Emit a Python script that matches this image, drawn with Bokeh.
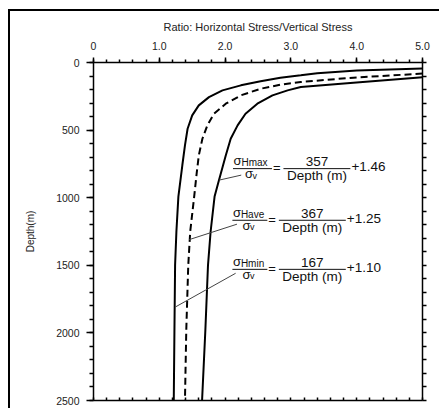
from bokeh.plotting import figure
from bokeh.models import Range1d, LinearAxis, FixedTicker, InlineStyleSheet
from bokeh.core.properties import value
from bokeh.embed import file_html
from bokeh.resources import INLINE

# ---- data ----
hmin_ratio = [5.0, 4.0, 3.4, 3.15, 2.84, 2.54, 2.24, 1.96, 1.755, 1.60, 1.50, 1.43, 1.39, 1.35, 1.29, 1.26, 1.24, 1.23, 1.22]
hmin_depth = [45, 60, 80, 95, 113, 139, 169, 206, 256, 317, 391, 490, 613, 760, 992, 1250, 1500, 1980, 2500]

have_ratio = [5.0, 3.95, 3.15, 2.84, 2.54, 2.24, 2.01, 1.83, 1.73, 1.655, 1.60, 1.57, 1.53, 1.47, 1.44, 1.41, 1.39]
have_depth = [82, 112, 144, 164, 194, 243, 305, 379, 465, 564, 688, 811, 992, 1250, 1500, 1980, 2500]

hmax_ratio = [5.0, 3.95, 3.15, 2.95, 2.72, 2.49, 2.31, 2.19, 2.085, 2.01, 1.94, 1.89, 1.84, 1.78, 1.74, 1.70, 1.65]
hmax_depth = [109, 150, 181, 206, 243, 305, 379, 465, 564, 688, 811, 900, 992, 1250, 1500, 1980, 2500]

x_ticks = [0, 1, 2, 3, 4, 5]
x_tick_labels = ["0", "1.0", "2.0", "3.0", "4.0", "5.0"]
x_minor = [0, 0.2, 0.4, 0.6, 0.8, 1, 1.2, 1.4, 1.6, 1.8, 2, 2.2, 2.4, 2.6, 2.8, 3,
           3.2, 3.4, 3.6, 3.8, 4, 4.2, 4.4, 4.6, 4.8, 5]
y_ticks = [0, 500, 1000, 1500, 2000, 2500]
y_minor = [0, 100, 200, 300, 400, 500, 600, 700, 800, 900, 1000, 1100, 1200, 1300, 1400,
           1500, 1600, 1700, 1800, 1900, 2000, 2100, 2200, 2300, 2400, 2500]

eq_names = ["Hmax", "Have", "Hmin"]
eq_coef = ["357", "367", "167"]
eq_const = ["+1.46", "+1.25", "+1.10"]
# leader lines (curve point -> equation)
leader_x0 = [1.91, 1.455, 1.242]
leader_d0 = [870, 1310, 1809]
leader_x1 = [2.245, 2.18, 2.16]
leader_d1 = [833, 1196, 1559]
# equation anchors (left end of the small fraction bar)
eq_anchor_x = [2.12, 2.111, 2.111]
eq_anchor_d = [785, 1167, 1530]
eq_shift = [4, 0, 0]   # px extra room after the wider "Hmax" subscript

FONT = "Liberation Sans"

p = figure(width=439, height=408, output_backend="svg", toolbar_location=None,
           x_range=Range1d(0, 5), y_range=Range1d(2500, 0),
           x_axis_location="above", y_axis_location="left",
           min_border_left=93, min_border_right=17, min_border_top=62, min_border_bottom=8)
p.grid.visible = False
p.outline_line_color = None
p.background_fill_color = "white"
p.border_fill_color = "white"
p.stylesheets = [InlineStyleSheet(css=(
    ":host{position:relative;}"
    ":host::after{content:'';position:absolute;left:8px;top:9px;right:0;bottom:0;"
    "border-left:2px solid #000;border-top:2px solid #000;pointer-events:none;}"))]

# top axis
ax = p.xaxis[0]
ax.ticker = FixedTicker(ticks=x_ticks, minor_ticks=x_minor)
ax.major_label_overrides = {t: l for t, l in zip(x_ticks, x_tick_labels)}
ax.axis_label = "Ratio: Horizontal Stress/Vertical Stress"
ax.axis_label_text_font = FONT
ax.axis_label_text_font_style = "normal"
ax.axis_label_text_font_size = "11px"
ax.axis_label_text_color = "#222"
ax.axis_label_standoff = 6
ax.major_label_text_font = FONT
ax.major_label_text_font_size = "10.5px"
ax.major_label_text_color = "#222"
ax.major_label_standoff = 8
ax.major_tick_out = 5
ax.major_tick_in = 0
ax.minor_tick_out = 3
ax.minor_tick_in = 0
ax.axis_line_width = 1.5
ax.major_tick_line_width = 1.5
ax.minor_tick_line_width = 1.5

# left axis
ay = p.yaxis[0]
ay.ticker = FixedTicker(ticks=y_ticks, minor_ticks=y_minor)
ay.axis_label = "Depth(m)"
ay.axis_label_text_font = FONT
ay.axis_label_text_font_style = "normal"
ay.axis_label_text_font_size = "10px"
ay.axis_label_text_color = "#222"
ay.axis_label_standoff = 17
ay.major_label_text_font = FONT
ay.major_label_text_font_size = "10.5px"
ay.major_label_text_color = "#222"
ay.major_label_standoff = 7
ay.major_tick_out = 7
ay.major_tick_in = 0
ay.minor_tick_out = 4
ay.minor_tick_in = 0
ay.axis_line_width = 1.5
ay.major_tick_line_width = 1.5
ay.minor_tick_line_width = 1.5

# right axis (ticks only)
ar = LinearAxis(ticker=FixedTicker(ticks=[], minor_ticks=y_minor),
                major_label_standoff=0,
                major_tick_out=0, major_tick_in=0, minor_tick_out=4, minor_tick_in=0,
                axis_line_width=1.5, minor_tick_line_width=1.5)
p.add_layout(ar, "right")

# bottom axis (ticks only, pointing inward)
ab = LinearAxis(ticker=FixedTicker(ticks=[], minor_ticks=x_minor),
                major_label_standoff=0,
                major_tick_out=0, major_tick_in=0, minor_tick_out=0, minor_tick_in=3,
                axis_line_width=1.5, minor_tick_line_width=1.5)
p.add_layout(ab, "below")

# curves
p.line(hmin_ratio, hmin_depth, line_color="black", line_width=2)
p.line(have_ratio, have_depth, line_color="black", line_width=2, line_dash="7 4")
p.line(hmax_ratio, hmax_depth, line_color="black", line_width=2)

# leaders
p.segment(x0=leader_x0, y0=leader_d0, x1=leader_x1, y1=leader_d1,
          line_color="#444", line_width=1)

SX = 329.3 / 5.0
SY = 337.5 / 2500.0

groups = {}


def put(key, x0, d0, dx, dy, text):
    g = groups.setdefault(key, ([], [], []))
    g[0].append(x0 + dx / SX)
    g[1].append(d0 + dy / SY)
    g[2].append(text)


bx0, bx1, bd = [], [], []
for name, coef, const, axx, add, sh in zip(eq_names, eq_coef, eq_const,
                                           eq_anchor_x, eq_anchor_d, eq_shift):
    # vertical offsets are the visual centres of each piece (px, relative to bar)
    put(("13px", "left"), axx, add, 0.5, -8, "σ")
    put(("10px", "left"), axx, add, 8.5, -6, name)
    put(("13px", "left"), axx, add, 10 + sh / 2, 5, "σ")
    put(("9px", "left"), axx, add, 17.5 + sh / 2, 7, "v")
    put(("13px", "left"), axx, add, 36 + sh, -1, "=")
    put(("13.5px", "center"), axx, add, 80 + sh, -7, coef)
    put(("13.5px", "center"), axx, add, 80 + sh, 7, "Depth (m)")
    put(("13.5px", "left"), axx, add, 114.5 + sh, -2, const)
    bx0 += [axx, axx + (46.5 + sh) / SX]
    bx1 += [axx + (35 + sh) / SX, axx + (113.5 + sh) / SX]
    bd += [add, add]

for (size, align), (xs, ys, ts) in groups.items():
    p.text(x=xs, y=ys, text=ts, text_font=value(FONT), text_font_size=value(size),
           text_align=align, text_baseline="middle", text_color="#111")

p.segment(x0=bx0, y0=bd, x1=bx1, y1=bd, line_color="#111", line_width=1)

open("out.html", "w").write(file_html(p, INLINE))
